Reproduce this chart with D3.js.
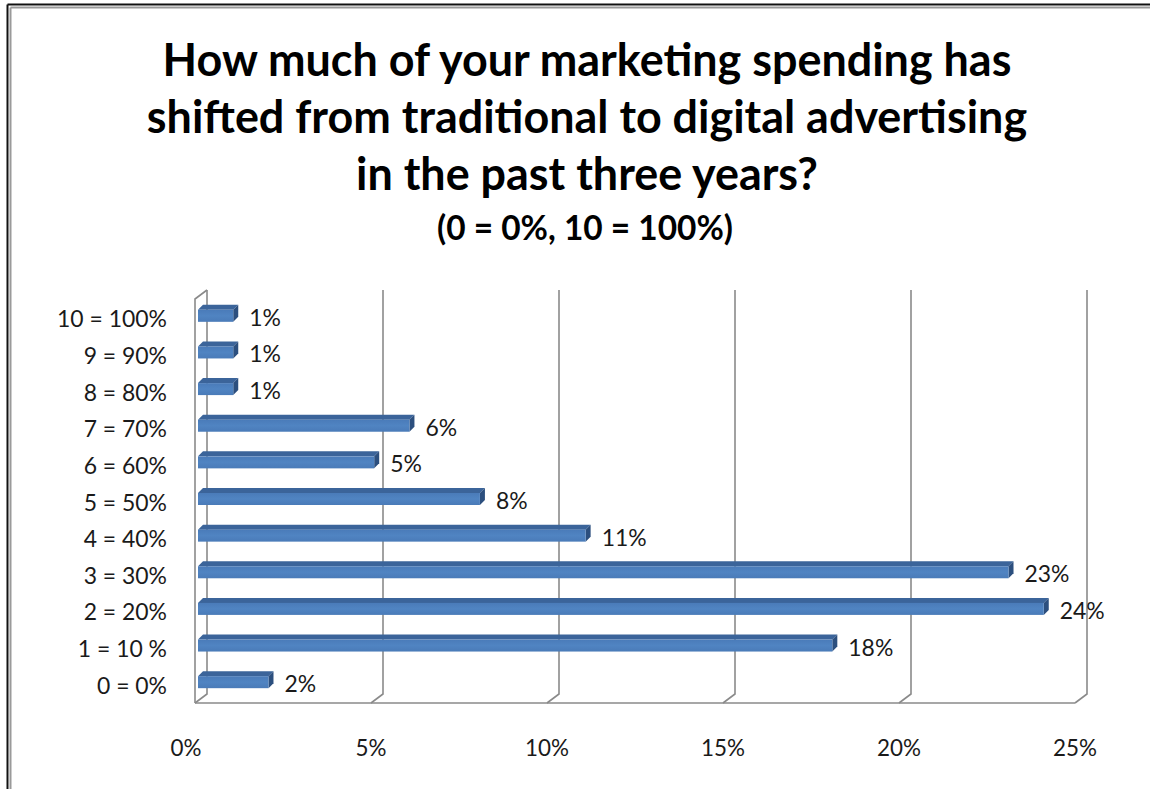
<!DOCTYPE html>
<html>
<head>
<meta charset="utf-8">
<script src="https://cdn.jsdelivr.net/npm/d3@7"></script>
<style>
  html, body { margin: 0; padding: 0; background: #fff; }
  svg { display: block; }
  text { font-family: Lato, "Open Sans", "DejaVu Sans", sans-serif; }
</style>
</head>
<body>
<svg id="chart" width="1150" height="789"></svg>
<script>
// Survey answers, top row first
const categories = ["10 = 100%", "9 = 90%", "8 = 80%", "7 = 70%", "6 = 60%", "5 = 50%",
                    "4 = 40%", "3 = 30%", "2 = 20%", "1 = 10 %", "0 = 0%"];
// Share of respondents (%)
const values = [1, 1, 1, 6, 5, 8, 11, 23, 24, 18, 2];
// Horizontal axis ticks (%)
const ticks = [0, 5, 10, 15, 20, 25];
const titleLines = [
  "How much of your marketing spending has",
  "shifted from traditional to digital advertising",
  "in the past three years?"
];
const subtitle = "(0 = 0%, 10 = 100%)";

const svg = d3.select("#chart");

// picks a font size so that a string spans the requested width
function fitSize(str, weight, width) {
  const probe = svg.append("text").attr("font-size", 100).attr("font-weight", weight).text(str);
  const w = probe.node().getComputedTextLength();
  probe.remove();
  return 100 * width / w;
}

// outer frame (top and left edges)
const frame = svg.append("g");
frame.append("line").attr("x1", 7.5).attr("y1", 4.5).attr("x2", 1150).attr("y2", 4.5)
  .attr("stroke", "#111").attr("stroke-width", 2);
frame.append("line").attr("x1", 10.5).attr("y1", 7.5).attr("x2", 1150).attr("y2", 7.5)
  .attr("stroke", "#9a9a9a").attr("stroke-width", 2);
frame.append("line").attr("x1", 7.5).attr("y1", 4.5).attr("x2", 7.5).attr("y2", 789)
  .attr("stroke", "#111").attr("stroke-width", 2);
frame.append("line").attr("x1", 10.5).attr("y1", 7.5).attr("x2", 10.5).attr("y2", 789)
  .attr("stroke", "#9a9a9a").attr("stroke-width", 2);

// title
const titleSize = fitSize(titleLines[0], "bold", 849);
const title = svg.append("g").attr("text-anchor", "middle");
titleLines.forEach((t, i) => {
  title.append("text").attr("x", 587).attr("y", 76 + i * 57)
    .attr("font-size", titleSize).attr("font-weight", "bold").attr("fill", "#000").text(t);
});
title.append("text").attr("x", 585).attr("y", 240)
  .attr("font-size", fitSize(subtitle, "bold", 296)).attr("font-weight", "bold")
  .attr("fill", "#000").text(subtitle);

// label sizes
const catSize = fitSize("10 = 100%", "normal", 110);
const valSize = fitSize("23%", "normal", 45);
const tickSize = fitSize("25%", "normal", 44);

// 3-D plot geometry: back wall and the depth offset to the front edge
const backTop = 290, backBottom = 694;
const depthX = -12, depthY = 9;
const xBack = d3.scaleLinear().domain([0, 25]).range([207, 1087]);
const xBar = d3.scaleLinear().domain([0, 25]).range([198, 1079]);
const y = d3.scaleBand().domain(categories).range([295, 698])
  .paddingInner(0.536).paddingOuter(0.268);
const barDepth = 5;

const grid = svg.append("g").attr("fill", "none").attr("stroke", "#8a8a8a").attr("stroke-width", 1.6);
// vertical gridlines on the back wall plus their floor returns
ticks.forEach(t => {
  grid.append("path").attr("d",
    `M${xBack(t)},${backTop}V${backBottom}L${xBack(t) + depthX},${backBottom + depthY}`);
});
// floor front edge
grid.append("path").attr("d",
  `M${xBack(0) + depthX},${backBottom + depthY}H${xBack(25) + depthX}`);
// left side wall front edge
grid.append("path").attr("d",
  `M${xBack(0)},${backTop}L${xBack(0) + depthX},${backTop + depthY}V${backBottom + depthY}`);

// bars: front face, top face, end cap
const bars = svg.append("g");
const defs = svg.append("defs");
const grad = defs.append("linearGradient").attr("id", "barFront")
  .attr("x1", 0).attr("y1", 0).attr("x2", 0).attr("y2", 1);
grad.append("stop").attr("offset", "0%").attr("stop-color", "#4a7bb9");
grad.append("stop").attr("offset", "50%").attr("stop-color", "#5084c2");
grad.append("stop").attr("offset", "100%").attr("stop-color", "#4a7bb8");

categories.forEach((c, i) => {
  const v = values[i];
  const y0 = y(c), h = y.bandwidth();
  const x0 = xBar(0), x1 = xBar(v);
  const g = bars.append("g");
  g.append("path").attr("fill", "#3b649a")
    .attr("d", `M${x0},${y0 + barDepth}L${x0 + barDepth},${y0}H${x1 + barDepth}L${x1},${y0 + barDepth}Z`);
  g.append("path").attr("fill", "#2c4f7e")
    .attr("d", `M${x1},${y0 + barDepth}L${x1 + barDepth},${y0}V${y0 + h - barDepth}L${x1},${y0 + h}Z`);
  g.append("rect").attr("x", x0).attr("y", y0 + barDepth).attr("width", x1 - x0)
    .attr("height", h - barDepth).attr("fill", "url(#barFront)");
  g.append("text").attr("x", x1 + barDepth + 11).attr("y", y0 + barDepth + (h - barDepth) / 2 + 1)
    .attr("dominant-baseline", "central").attr("font-size", valSize).attr("fill", "#1a1a1a")
    .text(v + "%");
});

// category labels
const yAxis = svg.append("g").attr("text-anchor", "end");
categories.forEach(c => {
  yAxis.append("text").attr("x", 167).attr("y", y(c) + y.bandwidth() / 2 + 5)
    .attr("dominant-baseline", "central").attr("font-size", catSize).attr("fill", "#1a1a1a").text(c);
});

// horizontal axis labels
const xAxis = svg.append("g").attr("text-anchor", "middle");
ticks.forEach(t => {
  xAxis.append("text").attr("x", xBack(t) + depthX - (t === 0 ? 9 : 0)).attr("y", 747)
    .attr("dominant-baseline", "central").attr("font-size", tickSize).attr("fill", "#1a1a1a").text(t + "%");
});
</script>
</body>
</html>
